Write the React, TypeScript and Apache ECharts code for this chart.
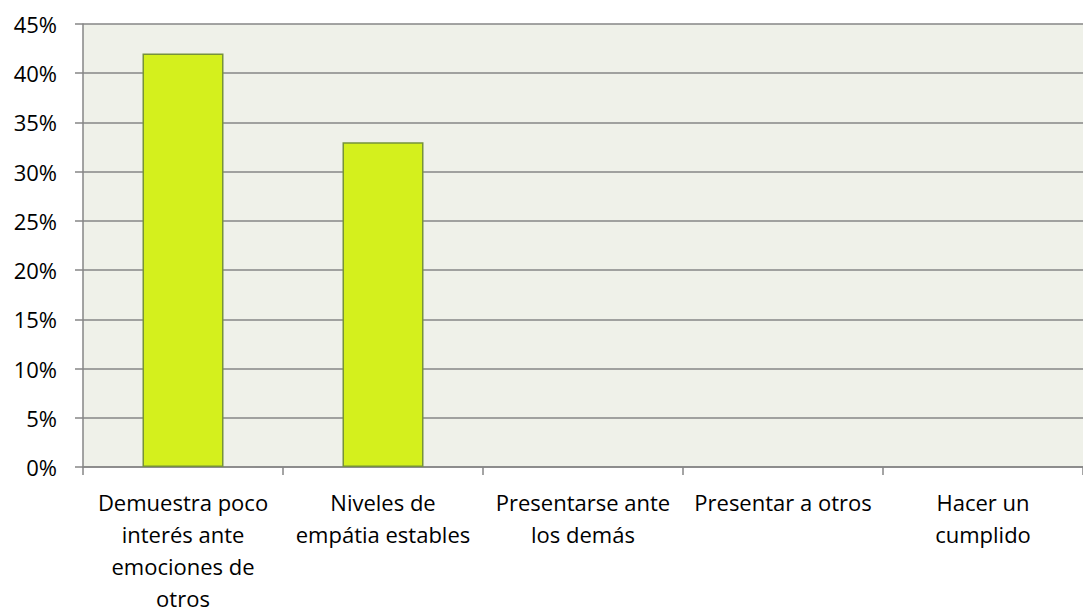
import React, { useEffect, useRef } from "react";
import * as echarts from "echarts";

const categories = [
  "Demuestra poco\ninterés ante\nemociones de\notros",
  "Niveles de\nempátia estables",
  "Presentarse ante\nlos demás",
  "Presentar a otros",
  "Hacer un\ncumplido",
];
const values = [42, 33, null, null, null];
const yTicks = { min: 0, max: 45, interval: 5 };

export default function App() {
  const ref = useRef<HTMLDivElement>(null);
  useEffect(() => {
    if (!ref.current) return;
    const chart = echarts.init(ref.current, null, { renderer: "svg" });
    const font = "'Open Sans', 'Noto Sans', sans-serif";
    chart.setOption({
      animation: false,
      backgroundColor: "#ffffff",
      grid: { left: 83, top: 24, width: 1011, height: 449, containLabel: false, show: true, backgroundColor: "#EFF1E9", borderWidth: 0 },
      xAxis: {
        type: "category",
        data: categories,
        axisLine: { show: true, lineStyle: { color: "#868686", width: 1.5 } },
        axisTick: { show: true, length: 8, alignWithLabel: false, lineStyle: { color: "#868686", width: 1.5 } },
        axisLabel: { interval: 0, margin: 19, color: "#000", fontSize: 22, lineHeight: 32, fontFamily: font, align: "center" },
        splitLine: { show: false },
      },
      yAxis: {
        type: "value",
        min: yTicks.min,
        max: yTicks.max,
        interval: yTicks.interval,
        axisLine: { show: true, lineStyle: { color: "#868686", width: 1.5 } },
        axisTick: { show: true, length: 8, lineStyle: { color: "#868686", width: 1.5 } },
        axisLabel: { margin: 26, color: "#000", fontSize: 22, fontFamily: font, formatter: "{value}%" },
        splitLine: { show: true, lineStyle: { color: "#868686", width: 1.5 } },
      },
      series: [
        {
          type: "bar",
          data: values,
          barWidth: "40.5%",
          itemStyle: { color: "#D4F01D", borderColor: "#76923C", borderWidth: 1.5 },
        },
      ],
    });
    return () => chart.dispose();
  }, []);
  return <div ref={ref} style={{ position: "absolute", left: 0, top: 0, width: 1083, height: 614 }} />;
}
